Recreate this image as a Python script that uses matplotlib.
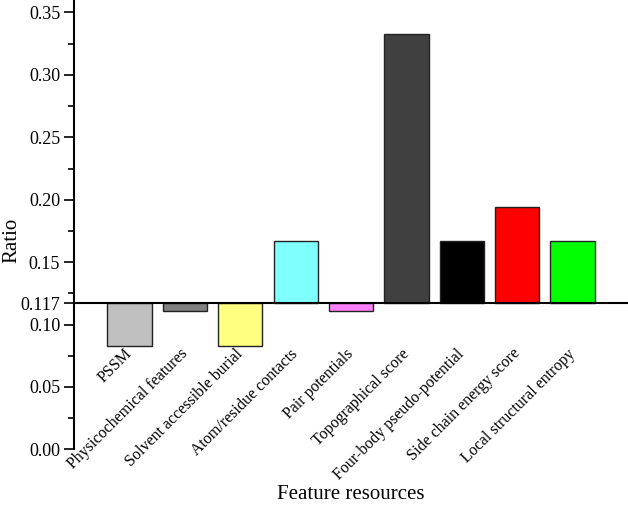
import numpy as np
import matplotlib
matplotlib.use("Agg")
import matplotlib.pyplot as plt
from matplotlib.ticker import MultipleLocator

plt.rcParams['font.family'] = ['Liberation Serif', 'DejaVu Serif']

# data
features = ['PSSM', 'Physicochemical features', 'Solvent accessible burial',
            'Atom/residue contacts', 'Pair potentials', 'Topographical score',
            'Four-body pseudo-potential', 'Side chain energy score',
            'Local structural entropy']
ratios = [0.083, 0.111, 0.083, 0.167, 0.111, 0.333, 0.167, 0.194, 0.167]
colors = ['#C0C0C0', '#808080', '#FFFF80', '#80FFFF', '#FF80FF',
          '#404040', '#000000', '#FF0000', '#00FF00']
baseline = 0.117
yticks = [0.00, 0.05, 0.10, 0.117, 0.15, 0.20, 0.25, 0.30, 0.35]
ytick_labels = ['0.00', '0.05', '0.10', '0.117', '0.15', '0.20', '0.25', '0.30', '0.35']

fig = plt.figure(figsize=(6.28, 5.13), dpi=100)
ax = fig.add_axes([0.118, 0.124, 0.882, 0.876])

x = np.arange(1, len(features) + 1)
heights = np.array(ratios) - baseline
ax.bar(x, heights, width=0.8, bottom=baseline, color=colors,
       edgecolor='#222222', linewidth=1.0, zorder=2)
ax.axhline(baseline, color='black', linewidth=1.5, zorder=3)

ax.set_xlim(0, 10)
ax.set_ylim(0, 0.36)
ax.set_xticks([])
ax.set_yticks(yticks)
ax.set_yticklabels(ytick_labels, fontsize=13)
ax.yaxis.set_minor_locator(MultipleLocator(0.025))
ax.tick_params(axis='y', which='major', direction='out', length=7, width=1.2, pad=3)
ax.tick_params(axis='y', which='minor', direction='out', length=4, width=1.2)

for side in ['top', 'right', 'bottom']:
    ax.spines[side].set_visible(False)
ax.spines['left'].set_linewidth(1.5)

# slanted category labels hanging under the lowest bars
for xi, name in zip(x, features):
    ax.text(xi - 0.1, 0.083, name, rotation=45, ha='right', va='top',
            rotation_mode='anchor', fontsize=11.5)

ax.set_ylabel('Ratio', fontsize=15)
ax.yaxis.set_label_coords(-0.095, 0.465)
ax.text(0.5, -0.1, 'Feature resources', transform=ax.transAxes,
        ha='center', va='center', fontsize=15)

fig.savefig('out.png', dpi=100)
